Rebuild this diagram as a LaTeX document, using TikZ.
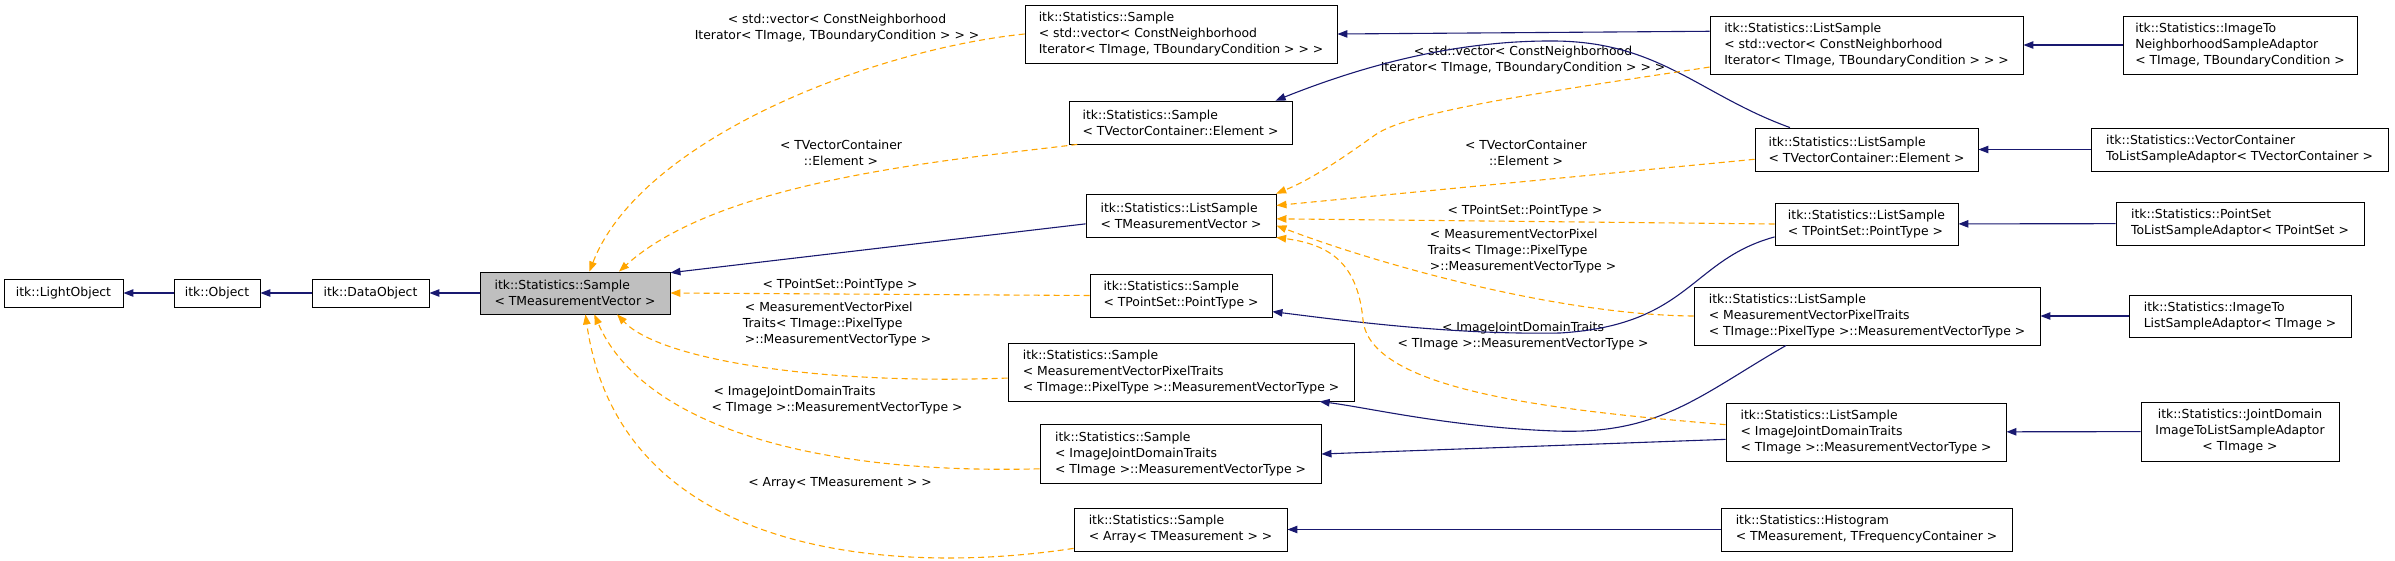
\documentclass[tikz,border=0pt]{standalone}
\usepackage{fontspec}
\setmainfont{DejaVu Sans}
\usepackage{tikz}
\usetikzlibrary{arrows.meta}
\definecolor{inhblue}{HTML}{191970}
\definecolor{tplorange}{HTML}{FFA500}
\definecolor{basegray}{HTML}{BFBFBF}
\newcommand{\boxfont}{\fontsize{12.4}{16}\selectfont}

\begin{document}
\begin{tikzpicture}[x=1pt, y=-1pt,
  cls/.style={draw=black, line width=0.9pt, fill=white, font=\boxfont, align=left, inner xsep=3pt, inner ysep=0pt},
  base/.style={cls, fill=basegray},
  inh/.style={draw=inhblue, line width=1.1pt, -{Triangle[length=10pt,width=7.5pt]}},
  tpl/.style={draw=tplorange, line width=1.1pt, dash pattern=on 6pt off 4pt, -{Triangle[length=10pt,width=7.5pt]}},
  lbl/.style={font=\boxfont, align=center, inner sep=0pt}]
  \useasboundingbox (0,0) rectangle (2395,560);
  % base chain
  \node[cls, minimum width=119pt, minimum height=28pt] (light) at (63.5,293) {itk::LightObject};
  \node[cls, minimum width=86pt, minimum height=28pt] (object) at (217,293) {itk::Object};
  \node[cls, minimum width=117pt, minimum height=28pt] (dataobj) at (370.5,293) {itk::DataObject};
  \node[base, minimum width=190pt, minimum height=42pt] (sample) at (575,293) {itk::Statistics::Sample\\< TMeasurementVector >};
  % Sample instantiations
  \node[cls, minimum width=312pt, minimum height=58pt] (sVector) at (1181,34) {itk::Statistics::Sample\\< std::vector< ConstNeighborhood\\Iterator< TImage, TBoundaryCondition > > >};
  \node[cls, minimum width=223pt, minimum height=43pt] (sElem) at (1180.5,122.5) {itk::Statistics::Sample\\< TVectorContainer::Element >};
  \node[cls, minimum width=190pt, minimum height=43pt] (lMeas) at (1181,215.5) {itk::Statistics::ListSample\\< TMeasurementVector >};
  \node[cls, minimum width=182pt, minimum height=43pt] (sPoint) at (1181,295.5) {itk::Statistics::Sample\\< TPointSet::PointType >};
  \node[cls, minimum width=346pt, minimum height=58pt] (sPixel) at (1181,372) {itk::Statistics::Sample\\< MeasurementVectorPixelTraits\\< TImage::PixelType >::MeasurementVectorType >};
  \node[cls, minimum width=281pt, minimum height=59pt] (sJoint) at (1180.5,454) {itk::Statistics::Sample\\< ImageJointDomainTraits\\< TImage >::MeasurementVectorType >};
  \node[cls, minimum width=213pt, minimum height=43pt] (sArray) at (1180.5,529.5) {itk::Statistics::Sample\\< Array< TMeasurement > >};
  % ListSample instantiations
  \node[cls, minimum width=313pt, minimum height=58pt] (lVector) at (1866.5,45) {itk::Statistics::ListSample\\< std::vector< ConstNeighborhood\\Iterator< TImage, TBoundaryCondition > > >};
  \node[cls, minimum width=223pt, minimum height=43pt] (lElem) at (1866.5,149.5) {itk::Statistics::ListSample\\< TVectorContainer::Element >};
  \node[cls, minimum width=183pt, minimum height=42pt] (lPoint) at (1866.5,224) {itk::Statistics::ListSample\\< TPointSet::PointType >};
  \node[cls, minimum width=346pt, minimum height=58pt] (lPixel) at (1867,316) {itk::Statistics::ListSample\\< MeasurementVectorPixelTraits\\< TImage::PixelType >::MeasurementVectorType >};
  \node[cls, minimum width=280pt, minimum height=58pt] (lJoint) at (1866,432) {itk::Statistics::ListSample\\< ImageJointDomainTraits\\< TImage >::MeasurementVectorType >};
  \node[cls, minimum width=291pt, minimum height=43pt] (histo) at (1866.5,529.5) {itk::Statistics::Histogram\\< TMeasurement, TFrequencyContainer >};
  % adaptors
  \node[cls, minimum width=234pt, minimum height=58pt] (aNeigh) at (2240,45) {itk::Statistics::ImageTo\\NeighborhoodSampleAdaptor\\< TImage, TBoundaryCondition >};
  \node[cls, minimum width=297pt, minimum height=43pt] (aVecCont) at (2239.5,149.5) {itk::Statistics::VectorContainer\\ToListSampleAdaptor< TVectorContainer >};
  \node[cls, minimum width=248pt, minimum height=43pt] (aPointSet) at (2240,223.5) {itk::Statistics::PointSet\\ToListSampleAdaptor< TPointSet >};
  \node[cls, minimum width=222pt, minimum height=42pt] (aImage) at (2240,316) {itk::Statistics::ImageTo\\ListSampleAdaptor< TImage >};
  \node[cls, align=center, minimum width=198pt, minimum height=59pt] (aJoint) at (2240,431.5) {itk::Statistics::JointDomain\\ImageToListSampleAdaptor\\< TImage >};
  % edge labels
  \node[lbl] (tVector) at (837,28) {< std::vector< ConstNeighborhood\\Iterator< TImage, TBoundaryCondition > > >};
  \node[lbl] (tElem) at (841,153) {< TVectorContainer\\::Element >};
  \node[lbl] (tPoint) at (840,285) {< TPointSet::PointType >};
  \node[lbl, align=left] (tPixel) at (837,324) {\,< MeasurementVectorPixel\\Traits< TImage::PixelType\\\,>::MeasurementVectorType >};
  \node[lbl, align=left] (tJoint) at (837,400) {\,< ImageJointDomainTraits\\< TImage >::MeasurementVectorType >};
  \node[lbl] (tArray) at (840,483) {< Array< TMeasurement > >};
  \node[lbl] (tVector2) at (1523,60) {< std::vector< ConstNeighborhood\\Iterator< TImage, TBoundaryCondition > > >};
  \node[lbl] (tElem2) at (1526,153) {< TVectorContainer\\::Element >};
  \node[lbl] (tPoint2) at (1525,211) {< TPointSet::PointType >};
  \node[lbl, align=left] (tPixel2) at (1522,251) {\,< MeasurementVectorPixel\\Traits< TImage::PixelType\\\,>::MeasurementVectorType >};
  \node[lbl] (tJoint2) at (1523,336) {< ImageJointDomainTraits\\< TImage >::MeasurementVectorType >};
  % inheritance
  \draw[inh] (object) -- (light);
  \draw[inh] (dataobj) -- (object);
  \draw[inh] (sample) -- (dataobj);
  \draw[inh] (lMeas.185) -- (sample.12);
  \draw[inh] (lVector.175) -- (sVector.east);
  \draw[inh] (lElem.164) .. controls (1700,95) and (1660,42) .. (1555,41) .. controls (1440,40) and (1340,75) .. (sElem.13);
  \draw[inh] (lPoint.188) .. controls (1690,260) and (1690,325) .. (1560,333) .. controls (1450,335) and (1340,320) .. (sPoint.-10);
  \draw[inh] (lPixel.-160) .. controls (1700,395) and (1660,435) .. (1555,431) .. controls (1450,427) and (1370,408) .. (sPixel.-12);
  \draw[inh] (lJoint.183) -- (sJoint.east);
  \draw[inh] (histo) -- (sArray);
  \draw[inh] (aNeigh) -- (lVector);
  \draw[inh] (aVecCont) -- (lElem);
  \draw[inh] (aPointSet) -- (lPoint);
  \draw[inh] (aImage) -- (lPixel);
  \draw[inh] (aJoint) -- (lJoint);
  % template instances
  \draw[tpl] (sVector.west) .. controls (870,50) and (640,140) .. (sample.56);
  \draw[tpl] (sElem.192) .. controls (950,160) and (720,180) .. (sample.26);
  \draw[tpl] (sPoint.west) -- (sample.east);
  \draw[tpl] (sPixel.182) .. controls (820,385) and (660,360) .. (sample.-27);
  \draw[tpl] (sJoint.186) .. controls (800,475) and (640,420) .. (sample.-48);
  \draw[tpl] (sArray.190) .. controls (900,575) and (620,560) .. (sample.-64);
  \draw[tpl] (lVector.188) .. controls (1560,90) and (1410,110) .. (1375,135) .. controls (1340,160) and (1310,180) .. (lMeas.13);
  \draw[tpl] (lElem.185) -- (lMeas.6);
  \draw[tpl] (lPoint.west) -- (lMeas.-2);
  \draw[tpl] (lPixel.west) .. controls (1560,315) and (1380,265) .. (lMeas.-6);
  \draw[tpl] (lJoint.177) .. controls (1550,410) and (1370,390) .. (1363,320) .. controls (1358,268) and (1335,245) .. (lMeas.-13);
\end{tikzpicture}
\end{document}
